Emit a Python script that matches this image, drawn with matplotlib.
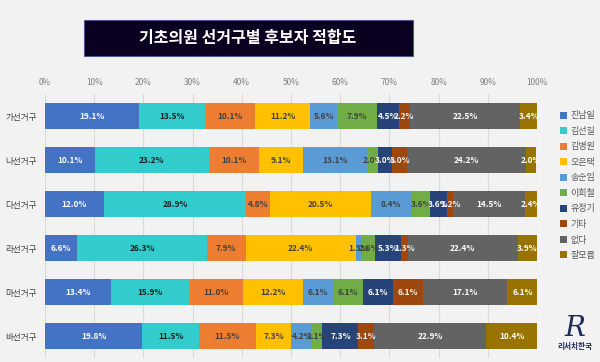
import numpy as np
import matplotlib
matplotlib.use("Agg")
import matplotlib.pyplot as plt
from matplotlib.patches import Rectangle

plt.rcParams['font.family'] = ['Noto Sans CJK KR', 'DejaVu Sans']

districts = ["가선거구", "나선거구", "다선거구", "라선거구", "마선거구", "바선거구"]
candidates = ["진남일", "김선길", "김병원", "오은택", "송순임", "이희철", "유정기", "기타", "없다", "잘모름"]
values = [
    [19.1, 10.1, 12.0, 6.6, 13.4, 19.8],   # 진남일
    [13.5, 23.2, 28.9, 26.3, 15.9, 11.5],  # 김선길
    [10.1, 10.1, 4.8, 7.9, 11.0, 11.5],    # 김병원
    [11.2, 9.1, 20.5, 22.4, 12.2, 7.3],    # 오은택
    [5.6, 13.1, 8.4, 1.3, 6.1, 4.2],       # 송순임
    [7.9, 2.0, 3.6, 2.6, 6.1, 2.1],        # 이희철
    [4.5, 3.0, 3.6, 5.3, 6.1, 7.3],        # 유정기
    [2.2, 3.0, 1.2, 1.3, 6.1, 3.1],        # 기타
    [22.5, 24.2, 14.5, 22.4, 17.1, 22.9],  # 없다
    [3.4, 2.0, 2.4, 3.9, 6.1, 10.4],       # 잘모름
]
colors = ["#4472C4", "#33CCCC", "#ED7D31", "#FFC000", "#5B9BD5",
          "#70AD47", "#264478", "#9E480E", "#636363", "#997300"]
text_colors = ["white", "#1a1a1a", "#404040", "#404040", "#404040",
               "#404040", "white", "#f0f0f0", "white", "white"]

bg = "#F2F2F2"
fig = plt.figure(figsize=(6, 3.62), dpi=100, facecolor=bg)
ax = fig.add_axes([0.075, 0.011, 0.82, 0.729], facecolor=bg)

y = np.arange(len(districts))
left = np.zeros(len(districts))
for name, vals, c, tc in zip(candidates, values, colors, text_colors):
    vals = np.array(vals)
    bars = ax.barh(y, vals, left=left, height=0.59, color=c, label=name,
                   edgecolor="none", zorder=3)
    for b, v in zip(bars, vals):
        ax.text(b.get_x() + b.get_width() / 2, b.get_y() + b.get_height() / 2,
                f"{v:.1f}%", ha="center", va="center", fontsize=6,
                fontweight="bold", color=tc, zorder=4)
    left += vals

ax.set_xlim(0, 100)
ax.set_ylim(len(districts) - 0.5, -0.5)
ax.set_xticks(np.arange(0, 101, 10))
ax.set_xticklabels([f"{t}%" for t in range(0, 101, 10)])
ax.xaxis.tick_top()
ax.tick_params(axis="x", length=0, labelsize=6, labelcolor="#808080", pad=5)
ax.set_yticks(y)
ax.set_yticklabels(districts)
ax.tick_params(axis="y", length=0, labelsize=6.2, labelcolor="#404040", pad=6)
ax.grid(axis="x", color="#d9d9d9", lw=0.8, zorder=0)
for s in ax.spines.values():
    s.set_visible(False)

leg = ax.legend(loc="upper left", bbox_to_anchor=(1.03, 0.965), frameon=False,
                fontsize=6.5, handlelength=0.8, handleheight=0.8,
                labelspacing=0.72, handletextpad=0.4)
for t in leg.get_texts():
    t.set_color("#595959")

# title box
fig.patches.append(Rectangle((84 / 600, 1 - 56 / 362), 329 / 600, 36 / 362,
                             transform=fig.transFigure, facecolor="#0a0020",
                             edgecolor="#4a5a8a", lw=0.8))
fig.text(248 / 600, 1 - 38 / 362, "기초의원 선거구별 후보자 적합도", ha="center",
         va="center", fontsize=11.5, fontweight="bold", color="white")

# logo
fig.text(575 / 600, 1 - 328 / 362, "R", ha="center", va="center", fontsize=20,
         style="italic", family="DejaVu Serif", color="#1f2a5a")
fig.text(575 / 600, 1 - 347 / 362, "리서치한국", ha="center", va="center",
         fontsize=5.5, fontweight="bold", color="#1f2a5a")

fig.savefig("out.png", dpi=100, facecolor=bg)
